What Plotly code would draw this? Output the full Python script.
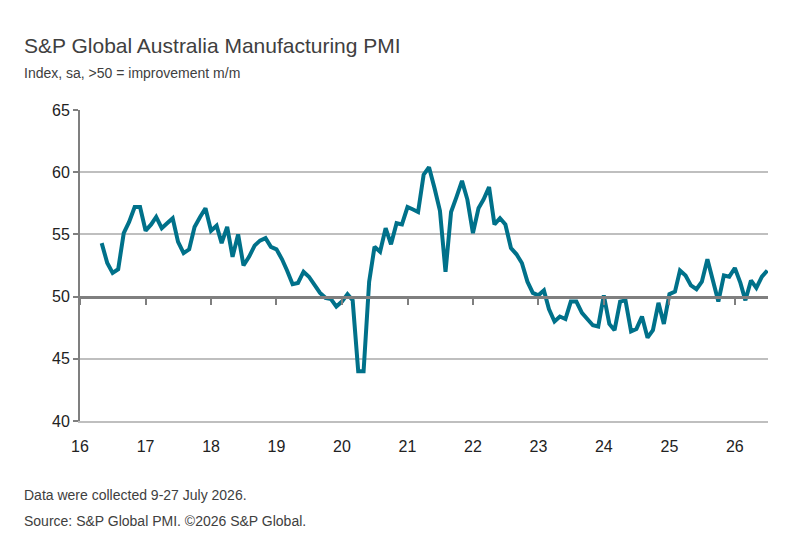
import plotly.graph_objects as go
import pandas as pd

start_month = "2016-05-01"
pmi = [54.3, 52.7, 51.9, 52.2, 55.1, 56.0, 57.2, 57.2,
       55.3, 55.8, 56.4, 55.5, 55.9, 56.3, 54.4, 53.5, 53.8, 55.6, 56.4, 57.1,
       55.3, 55.7, 54.3, 55.6, 53.2, 55.0, 52.5, 53.2, 54.1, 54.5, 54.7, 54.0,
       53.8, 53.0, 52.1, 51.0, 51.1, 52.0, 51.6, 50.9, 50.3, 49.9, 49.8, 49.2,
       49.6, 50.2, 49.7, 44.0, 44.0, 51.2, 54.0, 53.6, 55.5, 54.2, 55.9, 55.8,
       57.2, 57.0, 56.8, 59.8, 60.4, 58.7, 56.9, 52.0, 56.8, 58.0, 59.3, 57.8,
       55.1, 57.1, 57.8, 58.8, 55.8, 56.3, 55.8, 53.9, 53.4, 52.7, 51.2, 50.3,
       50.1, 50.5, 49.0, 48.0, 48.4, 48.2, 49.6, 49.6, 48.7, 48.2, 47.7, 47.6,
       50.1, 47.8, 47.3, 49.6, 49.7, 47.2, 47.4, 48.4, 46.7, 47.3, 49.5, 47.8,
       50.2, 50.4, 52.1, 51.7, 50.9, 50.6, 51.2, 53.0, 51.3, 49.6, 51.7, 51.6,
       52.3, 51.1, 49.7, 51.3, 50.7, 51.6, 52.1]
dates = pd.date_range(start_month, periods=len(pmi), freq="MS")
year_ticks = pd.date_range("2016-01-01", "2026-01-01", freq="YS")
year_labels = [d.strftime("%y") for d in year_ticks]

txt = "#404040"
xr = ["2016-01-01", "2026-07-05"]
L, R, T, B = 72, 42, 102, 132
W, H = 802, 545

fig = go.Figure()
fig.add_trace(go.Scatter(x=dates, y=pmi, mode="lines",
                         line=dict(color="#00718a", width=4), hoverinfo="x+y"))
fig.add_trace(go.Scatter(x=dates[:1], y=pmi[:1], xaxis="x2", mode="lines",
                         line=dict(width=0), showlegend=False, hoverinfo="skip"))


def note(text, px, py, size):
    # px, py: position on the page in pixels (offset by page margin)
    return dict(text=text, x=(px - 8 - L) / (W - L - R),
                y=1 - (py - 8 - T) / (H - T - B),
                xref="paper", yref="paper", showarrow=False,
                xanchor="left", yanchor="middle", font=dict(size=size, color=txt))


fig.update_layout(
    width=W, height=H, showlegend=False,
    margin=dict(l=L, r=R, t=T, b=B),
    plot_bgcolor="white", paper_bgcolor="white",
    font=dict(family="Liberation Sans, Arial, sans-serif", color=txt),
    xaxis=dict(range=xr, tickvals=year_ticks, ticktext=year_labels,
               showgrid=False, showline=True, linecolor="#bfbfbf", linewidth=2,
               ticks="outside", ticklen=10, tickcolor="rgba(0,0,0,0)",
               tickfont=dict(size=16, color="#222")),
    xaxis2=dict(range=xr, overlaying="x", anchor="free", position=0.4,
                tickvals=year_ticks, showticklabels=False, ticks="outside",
                ticklen=6, tickwidth=2, tickcolor="#7f7f7f",
                showline=True, linecolor="#7f7f7f", linewidth=3, showgrid=False),
    yaxis=dict(range=[40, 65], dtick=5, showgrid=True, gridcolor="#bfbfbf",
               gridwidth=2, showline=True, linecolor="#7f7f7f", linewidth=2,
               ticks="outside", ticklen=5, tickwidth=2, tickcolor="#7f7f7f",
               zeroline=False, tickfont=dict(size=16, color="#222")),
    annotations=[
        note("S&P Global Australia Manufacturing PMI", 22, 45, 21),
        note("Index, sa, >50 = improvement m/m", 22, 73, 14),
        note("Data were collected 9-27 July 2026.", 22, 495, 14),
        note("Source: S&P Global PMI. ©2026 S&P Global.", 22, 521, 14),
    ],
)

fig.write_html("out.html")
